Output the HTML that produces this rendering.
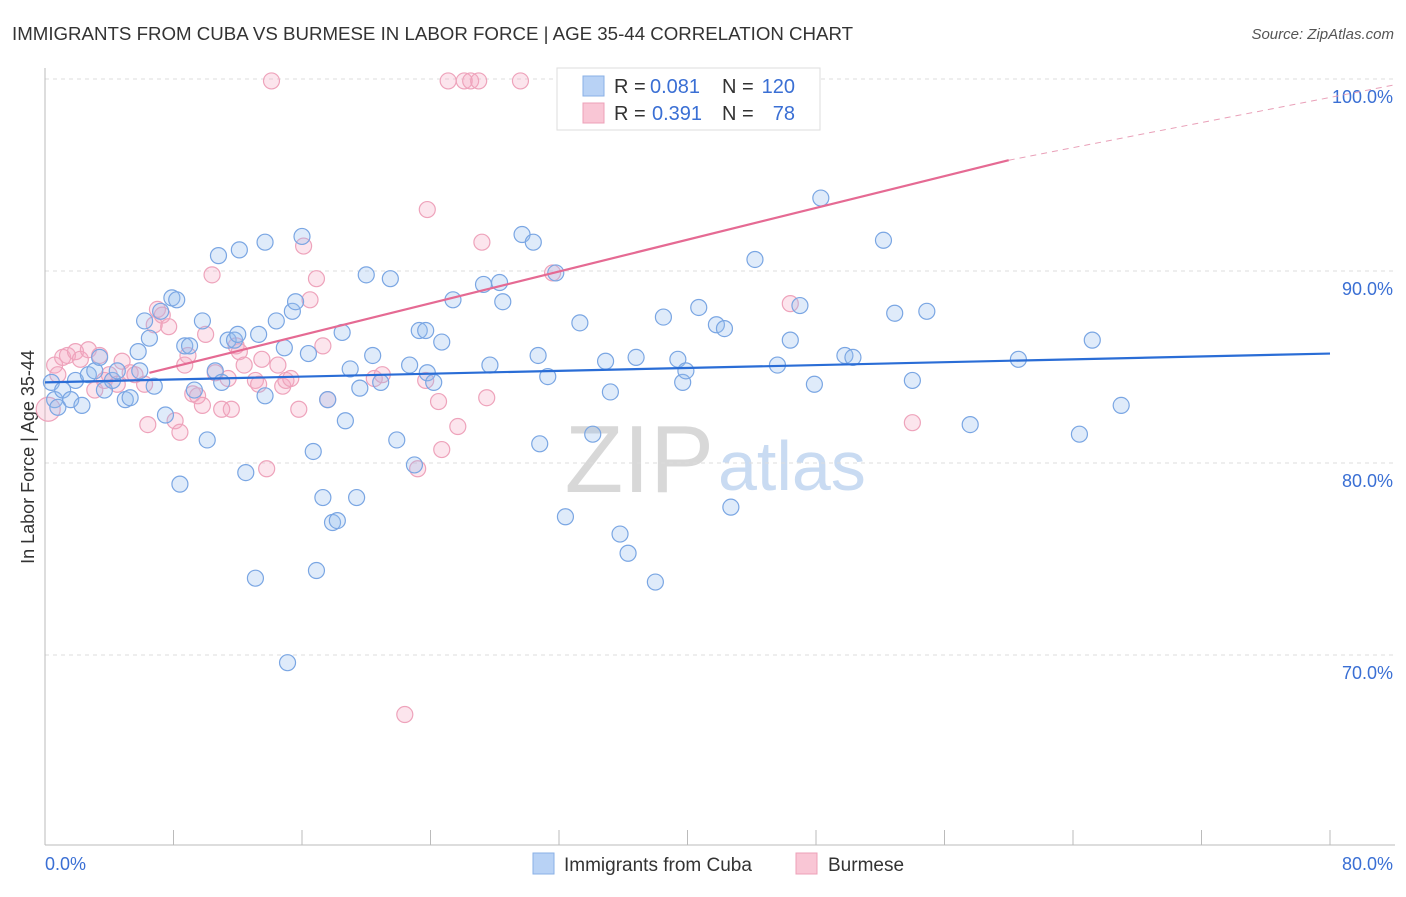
<!DOCTYPE html>
<html><head><meta charset="utf-8"><style>
body{margin:0;background:#fff;font-family:"Liberation Sans",sans-serif;}
svg text{font-family:"Liberation Sans",sans-serif;}
</style></head><body>
<svg id="chart" width="1406" height="892">
<text x="12" y="40" font-size="18.7" fill="#333">IMMIGRANTS FROM CUBA VS BURMESE IN LABOR FORCE | AGE 35-44 CORRELATION CHART</text>
<text x="1394" y="39" font-size="15" fill="#555" font-style="italic" text-anchor="end">Source: ZipAtlas.com</text>
<text x="714" y="492" font-size="96" fill="#d8d8d8" text-anchor="end" font-family="Liberation Serif">ZIP</text>
<text x="718" y="490" font-size="70" fill="#c9dbf2">atlas</text>
<text transform="translate(34,457) rotate(-90)" font-size="18" fill="#333" text-anchor="middle">In Labor Force | Age 35-44</text>
<g id="grid"></g><g id="axes"></g><g id="pts"></g><g id="trend"></g>
<g>
<rect x="557" y="68" width="263" height="62" fill="#fff" stroke="#ddd"/>
<rect x="583" y="76" width="21" height="20" fill="#b8d2f5" stroke="#8ab0e6"/>
<text x="614" y="93" font-size="20" fill="#333">R =</text>
<text x="650" y="93" font-size="20" fill="#3a6fd4">0.081</text>
<text x="722" y="93" font-size="20" fill="#333">N =</text>
<text x="795" y="93" font-size="20" fill="#3a6fd4" text-anchor="end">120</text>
<rect x="583" y="103" width="21" height="20" fill="#f9c6d5" stroke="#eda0b8"/>
<text x="614" y="120" font-size="20" fill="#333">R =</text>
<text x="652" y="120" font-size="20" fill="#3a6fd4">0.391</text>
<text x="722" y="120" font-size="20" fill="#333">N =</text>
<text x="795" y="120" font-size="20" fill="#3a6fd4" text-anchor="end">78</text>
</g>
<g>
<rect x="533" y="853" width="21" height="21" fill="#b8d2f5" stroke="#8ab0e6"/>
<text x="564" y="871" font-size="19" fill="#333">Immigrants from Cuba</text>
<rect x="796" y="853" width="21" height="21" fill="#f9c6d5" stroke="#eda0b8"/>
<text x="828" y="871" font-size="19" fill="#333">Burmese</text>
</g>
</svg>
<script>
const yTicks=[100,90,80,70];
const yTickLabels=["100.0%","90.0%","80.0%","70.0%"];
const xTicks=[0,8,16,24,32,40,48,56,64,72,80];
const xEndLabels=["0.0%","80.0%"];
const cubaX=[0.4,0.6,0.8,1.1,1.6,1.9,2.3,2.7,3.1,3.4,3.7,4.2,4.5,5.0,5.3,5.8,5.9,6.2,6.5,6.8,7.2,7.5,7.9,8.2,8.4,8.7,9.0,9.3,9.8,10.1,10.6,10.8,11.0,11.4,11.8,12.0,12.1,12.5,13.1,13.3,13.7,13.7,14.4,14.9,15.1,15.4,15.6,16.0,16.4,16.7,16.9,17.3,17.6,17.9,18.2,18.5,18.7,19.0,19.4,19.6,20.0,20.4,20.9,21.5,21.9,22.7,23.0,23.3,23.7,23.8,24.2,24.7,25.4,27.3,27.7,28.3,28.5,29.7,30.4,30.7,30.8,31.3,31.8,32.4,33.3,34.1,34.9,35.2,35.8,36.3,36.8,38.0,38.5,39.4,39.7,39.9,40.7,41.8,42.3,42.7,44.2,45.6,46.4,47.0,47.9,48.3,49.8,50.3,52.2,52.9,54.0,54.9,57.6,60.6,64.4,65.2,67.0];
const cubaY=[84.2,83.3,82.9,83.8,83.3,84.3,83.0,84.6,84.8,85.5,83.8,84.3,84.8,83.3,83.4,85.8,84.8,87.4,86.5,84.0,87.9,82.5,88.6,88.5,78.9,86.1,86.1,83.8,87.4,81.2,84.8,90.8,84.2,86.4,86.4,86.7,91.1,79.5,74.0,86.7,91.5,83.5,87.4,86.0,69.6,87.9,88.4,91.8,85.7,80.6,74.4,78.2,83.3,76.9,77.0,86.8,82.2,84.9,78.2,83.9,89.8,85.6,84.2,89.6,81.2,85.1,79.9,86.9,86.9,84.7,84.2,86.3,88.5,89.3,85.1,89.4,88.4,91.9,91.5,85.6,81.0,84.5,89.9,77.2,87.3,81.5,85.3,83.7,76.3,75.3,85.5,73.8,87.6,85.4,84.2,84.8,88.1,87.2,87.0,77.7,90.6,85.1,86.4,88.2,84.1,93.8,85.6,85.5,91.6,87.8,84.3,87.9,82.0,85.4,81.5,86.4,83.0];
const burX=[0.2,0.6,0.8,1.1,1.4,1.9,2.2,2.7,3.1,3.4,3.7,4.0,4.5,4.8,5.3,5.6,6.2,6.4,6.8,7.0,7.3,7.7,8.1,8.4,8.7,8.9,9.2,9.5,9.8,10.0,10.4,10.6,11.0,11.4,11.6,11.9,12.1,12.4,13.1,13.3,13.5,13.8,14.1,14.5,14.8,15.0,15.3,15.8,16.1,16.5,16.9,17.3,17.6,20.5,21.0,22.4,23.2,23.7,23.8,24.5,24.7,25.7,25.1,26.1,26.5,27.0,27.2,27.5,29.6,31.6,46.4,54.0];
const burY=[82.8,85.1,84.6,85.5,85.6,85.8,85.4,85.9,83.8,85.6,84.3,84.6,84.1,85.3,84.7,84.6,84.1,82.0,87.2,88.0,87.7,87.1,82.2,81.6,85.1,85.6,83.6,83.5,83.0,86.7,89.8,84.7,82.8,84.4,82.8,86.1,85.8,85.1,84.3,84.1,85.4,79.7,99.9,85.1,84.0,84.3,84.4,82.8,91.3,88.5,89.6,86.1,83.3,84.4,84.6,66.9,79.7,84.3,93.2,83.2,80.7,81.9,99.9,99.9,99.9,99.9,91.5,83.4,99.9,89.9,88.3,82.1];
const cubaTrend=[84.2,85.7];
const burTrend=[83.35,0.207];
const burDashEnd=99.7;
const L=45,R=1330,TOP=79;
const sx=v=>L+v*(R-L)/80;
const sy=v=>TOP+(100-v)*19.2;
const NS="http://www.w3.org/2000/svg";
function mk(tag,attrs,parent){const e=document.createElementNS(NS,tag);for(const k in attrs)e.setAttribute(k,attrs[k]);parent.appendChild(e);return e;}
const grid=document.getElementById('grid'),axes=document.getElementById('axes'),pts=document.getElementById('pts'),trend=document.getElementById('trend');
yTicks.forEach((t,i)=>{
 const g=mk('line',{x1:L,x2:1395,y1:sy(t),y2:sy(t),stroke:'#ddd','stroke-dasharray':'4,4'},grid);
 
 
 const tx=mk('text',{x:1393,y:sy(t)+24,'font-size':18,fill:'#3a6fd4','text-anchor':'end'},axes);
 tx.textContent=yTickLabels[i];
 
 
});
const ax=mk('line',{x1:L,x2:L,y1:68,y2:845,stroke:'#bbb'},axes);


const bx=mk('line',{x1:L,x2:1395,y1:845,y2:845,stroke:'#bbb'},axes);


xTicks.forEach(t=>{
 const l=mk('line',{x1:sx(t),x2:sx(t),y1:830,y2:845,stroke:'#bbb'},axes);
 
 
});
const xl0=mk('text',{x:45,y:870,'font-size':18,fill:'#3a6fd4'},axes);
xl0.textContent=xEndLabels[0];


const xl1=mk('text',{x:1393,y:870,'font-size':18,fill:'#3a6fd4','text-anchor':'end'},axes);
xl1.textContent=xEndLabels[1];


burX.forEach((x,i)=>{
 const c=mk('circle',{cx:sx(x),cy:sy(burY[i]),r:i===0?12:8,fill:'rgba(246,170,195,0.3)',stroke:'#eea3bb','stroke-width':1.2},pts);
 
 
});
cubaX.forEach((x,i)=>{
 const c=mk('circle',{cx:sx(x),cy:sy(cubaY[i]),r:8,fill:'rgba(150,190,240,0.3)',stroke:'#7aa6e3','stroke-width':1.2},pts);
 
 
});
const t1=mk('line',{x1:sx(0),y1:sy(cubaTrend[0]),x2:sx(80),y2:sy(cubaTrend[1]),stroke:'#2a6dd6','stroke-width':2.2},trend);


const bf=x=>burTrend[0]+burTrend[1]*x;
const t2=mk('line',{x1:sx(6.5),y1:sy(bf(6.5)),x2:sx(60),y2:sy(bf(60)),stroke:'#e56a93','stroke-width':2.2},trend);


const t3=mk('line',{x1:sx(60),y1:sy(bf(60)),x2:1395,y2:sy(burDashEnd),stroke:'#e9a0b8','stroke-width':1,'stroke-dasharray':'6,5'},trend);


</script>
</body></html>
